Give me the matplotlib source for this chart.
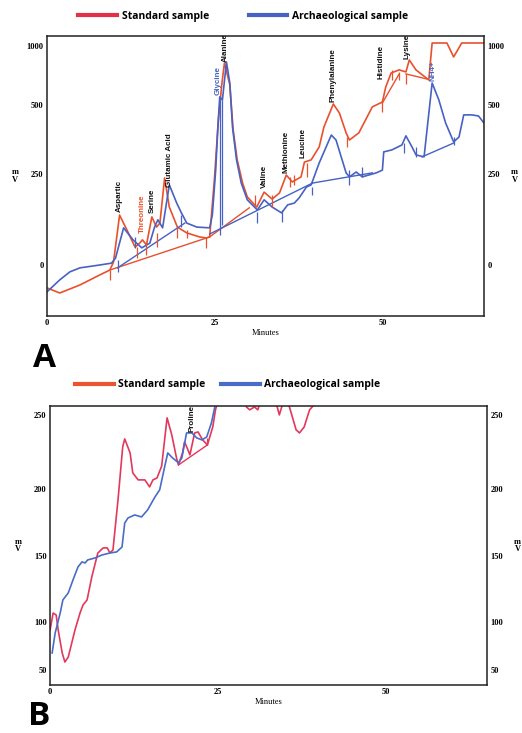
import numpy as np
import matplotlib
matplotlib.use("Agg")
import matplotlib.pyplot as plt
from matplotlib.lines import Line2D

# ---- panel A data (minutes, mV) ----
a_std_t = [0.0, 1.9, 4.9, 7.9, 9.35, 9.9, 10.8, 11.9, 13.1, 13.8, 14.2, 14.8, 15.6, 16.3, 16.8,
           17.5, 18.2, 19.4, 20.8, 22.7, 23.7, 24.2, 24.9, 25.5, 26.0, 26.4, 27.2, 27.7, 28.3,
           29.1, 29.8, 31.2, 32.3, 33.5, 34.6, 35.6, 36.5, 37.8, 38.3, 39.3, 40.5, 41.2, 42.6,
           43.5, 44.5, 45.0, 46.4, 48.4, 49.9, 50.4, 51.2, 52.4, 53.4, 53.9, 54.9, 56.8, 57.3,
           59.5, 60.5, 61.7, 65.0]
a_std_mv = [-63, -77, -55, -27, -14, 8, 137, 96, 49, 60, 69, 55, 132, 104, 115,
            239, 159, 104, 88, 77, 74, 77, 233, 446, 670, 856, 670, 409, 301,
            225, 187, 159, 200, 181, 198, 247, 228, 242, 293, 301, 348, 420, 508,
            471, 399, 373, 399, 493, 525, 653, 771, 797, 780, 881, 797, 712, 1025,
            1025, 907, 1025, 1025]

a_arc_t = [0.0, 1.9, 3.4, 4.9, 7.9, 9.6, 10.2, 11.4, 12.8, 14.1, 15.3, 16.0, 16.5, 17.2, 18.2,
           19.3, 20.0, 20.8, 22.3, 24.2, 24.6, 25.1, 25.4, 25.7, 26.1, 26.7, 27.2, 27.6, 28.2,
           28.9, 29.8, 31.3, 32.3, 33.5, 34.9, 35.8, 36.8, 37.5, 38.6, 39.3, 40.5, 42.3, 43.0,
           44.5, 45.0, 46.0, 46.9, 49.0, 49.9, 50.1, 51.3, 52.8, 53.4, 54.3, 54.9, 56.1, 57.3,
           58.3, 59.3, 60.5, 61.3, 62.0, 63.2, 64.2, 65.0]
a_arc_mv = [-74, -41, -19, -8, 0, 5, 19, 102, 69, 47, 60, 104, 124, 102, 220,
            170, 143, 115, 104, 102, 137, 264, 409, 568, 542, 864, 686, 420, 301,
            225, 179, 151, 179, 159, 143, 165, 170, 184, 214, 220, 290, 391, 373,
            254, 242, 257, 242, 254, 264, 330, 337, 355, 388, 348, 319, 312, 686,
            542, 435, 366, 384, 464, 464, 460, 435]

# integration baselines (start t, start mV, end t, end mV)
a_std_base = [(9.35, -14, 24.2, 77), (24.2, 77, 30.1, 157), (49.9, 517, 52.4, 763),
              (53.4, 763, 56.5, 720)]
a_arc_base = [(10.5, -8, 20.5, 115), (24.2, 85, 39.5, 225), (39.5, 225, 48.4, 254),
              (55.8, 312, 60.5, 362)]
# peak markers (t, low mV, high mV)
a_std_marks = [(9.35, -41, -14), (13.4, 19, 49), (14.7, 27, 60), (16.3, 49, 88), (19.4, 74, 102),
               (20.8, 74, 96), (23.7, 47, 74), (30.9, 165, 192), (33.5, 159, 192),
               (36.1, 214, 242), (36.8, 220, 247), (38.7, 242, 290), (44.7, 348, 384),
               (49.9, 475, 542), (51.3, 712, 797), (52.4, 712, 780), (53.4, 678, 763)]
a_arc_marks = [(10.5, -19, 14), (13.1, 47, 77), (20.0, 104, 137), (25.7, 82, 568), (26.1, 110, 542),
               (31.2, 115, 146), (34.9, 118, 151), (39.5, 192, 214), (45.0, 220, 264),
               (46.9, 242, 275), (53.1, 326, 362), (54.9, 312, 348), (60.5, 355, 384)]

# peak names (label, t, mV at label foot, colour key)
a_peaks = [("Aspartic", 10.8, 146, "k"), ("Threonine", 14.2, 88, "std"), ("Serine", 15.6, 143, "k"),
           ("Glutamic Acid", 18.2, 214, "k"), ("Glycine", 25.5, 585, "arc"), ("Alanine", 26.5, 864, "k"),
           ("Valine", 32.3, 212, "k"), ("Methionine", 35.5, 254, "k"), ("Leucine", 38.1, 308, "k"),
           ("Phenylalanine", 42.6, 525, "k"), ("Histidine", 49.7, 720, "k"), ("Lysine", 53.6, 890, "k"),
           ("NH4+", 57.5, 703, "arc")]

# ---- panel B data ----
b_std_t = [0.0, 0.45, 0.9, 1.2, 1.8, 2.2, 2.7, 3.7, 4.45, 4.9, 5.5, 6.2, 7.1, 7.9, 8.5, 8.9, 9.35,
           10.1, 10.8, 11.1, 11.9, 12.3, 13.1, 14.1, 14.8, 15.3, 15.9, 16.6, 17.4, 18.1, 18.8,
           19.1, 19.7, 20.0, 20.5, 20.8, 21.5, 22.0, 22.7, 23.4, 24.2, 24.6, 25.5, 27.5, 28.8,
           29.2, 29.7, 30.4, 30.9, 31.5, 33.4, 34.1, 34.9, 35.6, 36.6, 37.1, 37.8, 38.6, 39.3,
           41.0, 65.0]
b_std_mv = [91.7, 106.8, 105.3, 91.7, 67.7, 58.3, 63.5, 91.7, 106.8, 112.9, 116.7, 134.1, 152.2,
            156, 156, 152.2, 154.5, 191.8, 228.4, 233.8, 224.3, 210.8, 206.1, 206.1, 201.4, 206.1,
            207.4, 215.5, 248, 236.5, 221, 216.2, 224.3, 231.8, 226.4, 223, 237.8, 238.5, 233.1,
            229.7, 241.9, 253.4, 268, 272, 262, 255.4, 253.4, 255.4, 253.4, 262, 262, 250, 262,
            255.4, 239.9, 237.8, 241.9, 253.4, 257, 270, 270]

b_arc_t = [0.3, 0.75, 1.5, 1.9, 2.7, 3.4, 4.15, 4.75, 5.2, 5.6, 6.7, 7.7, 8.9, 9.9, 10.7, 11.1,
           11.6, 12.6, 13.6, 14.5, 15.6, 16.3, 17.1, 17.5, 18.2, 19.1, 19.6, 20.3, 21.1, 21.8,
           22.6, 23.3, 24.0, 24.5, 25.5, 65.0]
b_arc_mv = [67.7, 88.5, 106.8, 116.7, 122, 131.8, 141.7, 145.5, 144.7, 147, 148.5, 150.7, 152.2,
            153, 156.7, 174.6, 178.4, 180.6, 179.1, 184.3, 194, 199.3, 216.2, 224.3, 221, 217.6,
            221, 237.8, 237.8, 234.5, 233.1, 235.1, 244.6, 255.4, 270, 275]

b_std_base = [(19.1, 216.2, 23.4, 229.7)]
b_std_marks = [(23.4, 229.7, 234.5)]
b_peaks = [("Proline", 21.1, 238.5, "k")]

c_std = "#e9502c"
c_arc = "#4762c2"
c_std_b = "#e2385c"
c_arc_b = "#4a6cc8"

plt.rcParams["font.family"] = ["Liberation Serif", "DejaVu Serif"]
plt.rcParams["font.weight"] = "bold"
label_font = ["Liberation Sans Narrow", "Liberation Sans", "DejaVu Sans"]
head_font = ["Open Sans", "DejaVu Sans"]


def knot_scale(ax, mv, pos):
    ax.set_yscale("function", functions=(lambda v: np.interp(v, mv, pos),
                                         lambda p: np.interp(p, pos, mv)))


def style(ax, yticks, ylim):
    ax.set_xlim(0, 65)
    ax.set_ylim(*ylim)
    ax.set_xticks([0, 25, 50])
    ax.set_yticks(yticks)
    ax.tick_params(length=0, labelsize=6, labelright=True, pad=2.5)
    ax.set_xlabel("Minutes", fontsize=6, labelpad=1)
    for s in ax.spines.values():
        s.set_linewidth(1.1)
        s.set_color("#222222")
    for xx in (-0.073, 1.07):
        ax.text(xx, 0.5, "m\nV", transform=ax.transAxes, ha="center", va="center",
                fontsize=6, linespacing=0.9)


def draw(ax, t1, y1, t2, y2, c1, c2, bases1, bases2, marks1, marks2, peaks):
    ax.plot(t1, y1, color=c1, lw=1.2)
    ax.plot(t2, y2, color=c2, lw=1.2)
    for bl, c in ((bases1, c1), (bases2, c2)):
        for x0, v0, x1, v1 in bl:
            ax.plot([x0, x1], [v0, v1], color=c, lw=1.0)
    for ml, c in ((marks1, c1), (marks2, c2)):
        for x, lo, hi in ml:
            ax.vlines(x, lo, hi, colors=c, lw=0.9)
    cmap = {"k": "#111111", "std": c1, "arc": c2}
    for name, x, v, ck in peaks:
        ax.text(x, v, name, rotation=90, ha="center", va="bottom", fontsize=5.8,
                family=label_font, weight="bold", color=cmap[ck], clip_on=True)


fig = plt.figure(figsize=(5.22, 7.33), dpi=100)

axA = fig.add_axes([0.090, 0.569, 0.837, 0.382])
knot_scale(axA, [-1000, 0, 250, 500, 1000, 3000], [-364, 0, 91, 160, 219, 455])
draw(axA, a_std_t, a_std_mv, a_arc_t, a_arc_mv, c_std, c_arc,
     a_std_base, a_arc_base, a_std_marks, a_arc_marks, a_peaks)
style(axA, [0, 250, 500, 1000], (-140, 1085))

axB = fig.add_axes([0.096, 0.0655, 0.837, 0.3806])
knot_scale(axB, [-100, 50, 100, 150, 200, 250, 400], [-129, 15, 63, 129, 196, 270, 492])
draw(axB, b_std_t, b_std_mv, b_arc_t, b_arc_mv, c_std_b, c_arc_b,
     b_std_base, [], b_std_marks, [], b_peaks)
style(axB, [50, 100, 150, 200, 250], (34.4, 256))

legend_labels = ["Standard sample", "Archaeological sample"]
prop = {"family": head_font, "weight": "bold", "size": 7.5}
fig.legend([Line2D([], [], color="#e23048", lw=3), Line2D([], [], color=c_arc, lw=3)],
           legend_labels, loc="center", bbox_to_anchor=(0.466, 0.978), ncol=2,
           frameon=False, handlelength=3.7, handletextpad=0.5, columnspacing=3.8, prop=prop)
fig.legend([Line2D([], [], color="#ea5530", lw=3), Line2D([], [], color=c_arc_b, lw=3)],
           legend_labels, loc="center", bbox_to_anchor=(0.436, 0.475), ncol=2,
           frameon=False, handlelength=3.7, handletextpad=0.4, columnspacing=1.5, prop=prop)

fig.text(0.063, 0.499, "A", fontsize=24, weight="bold", family=head_font)
fig.text(0.054, 0.0, "B", fontsize=24, weight="bold", family=head_font, va="bottom")

fig.savefig("out.png", dpi=100)
